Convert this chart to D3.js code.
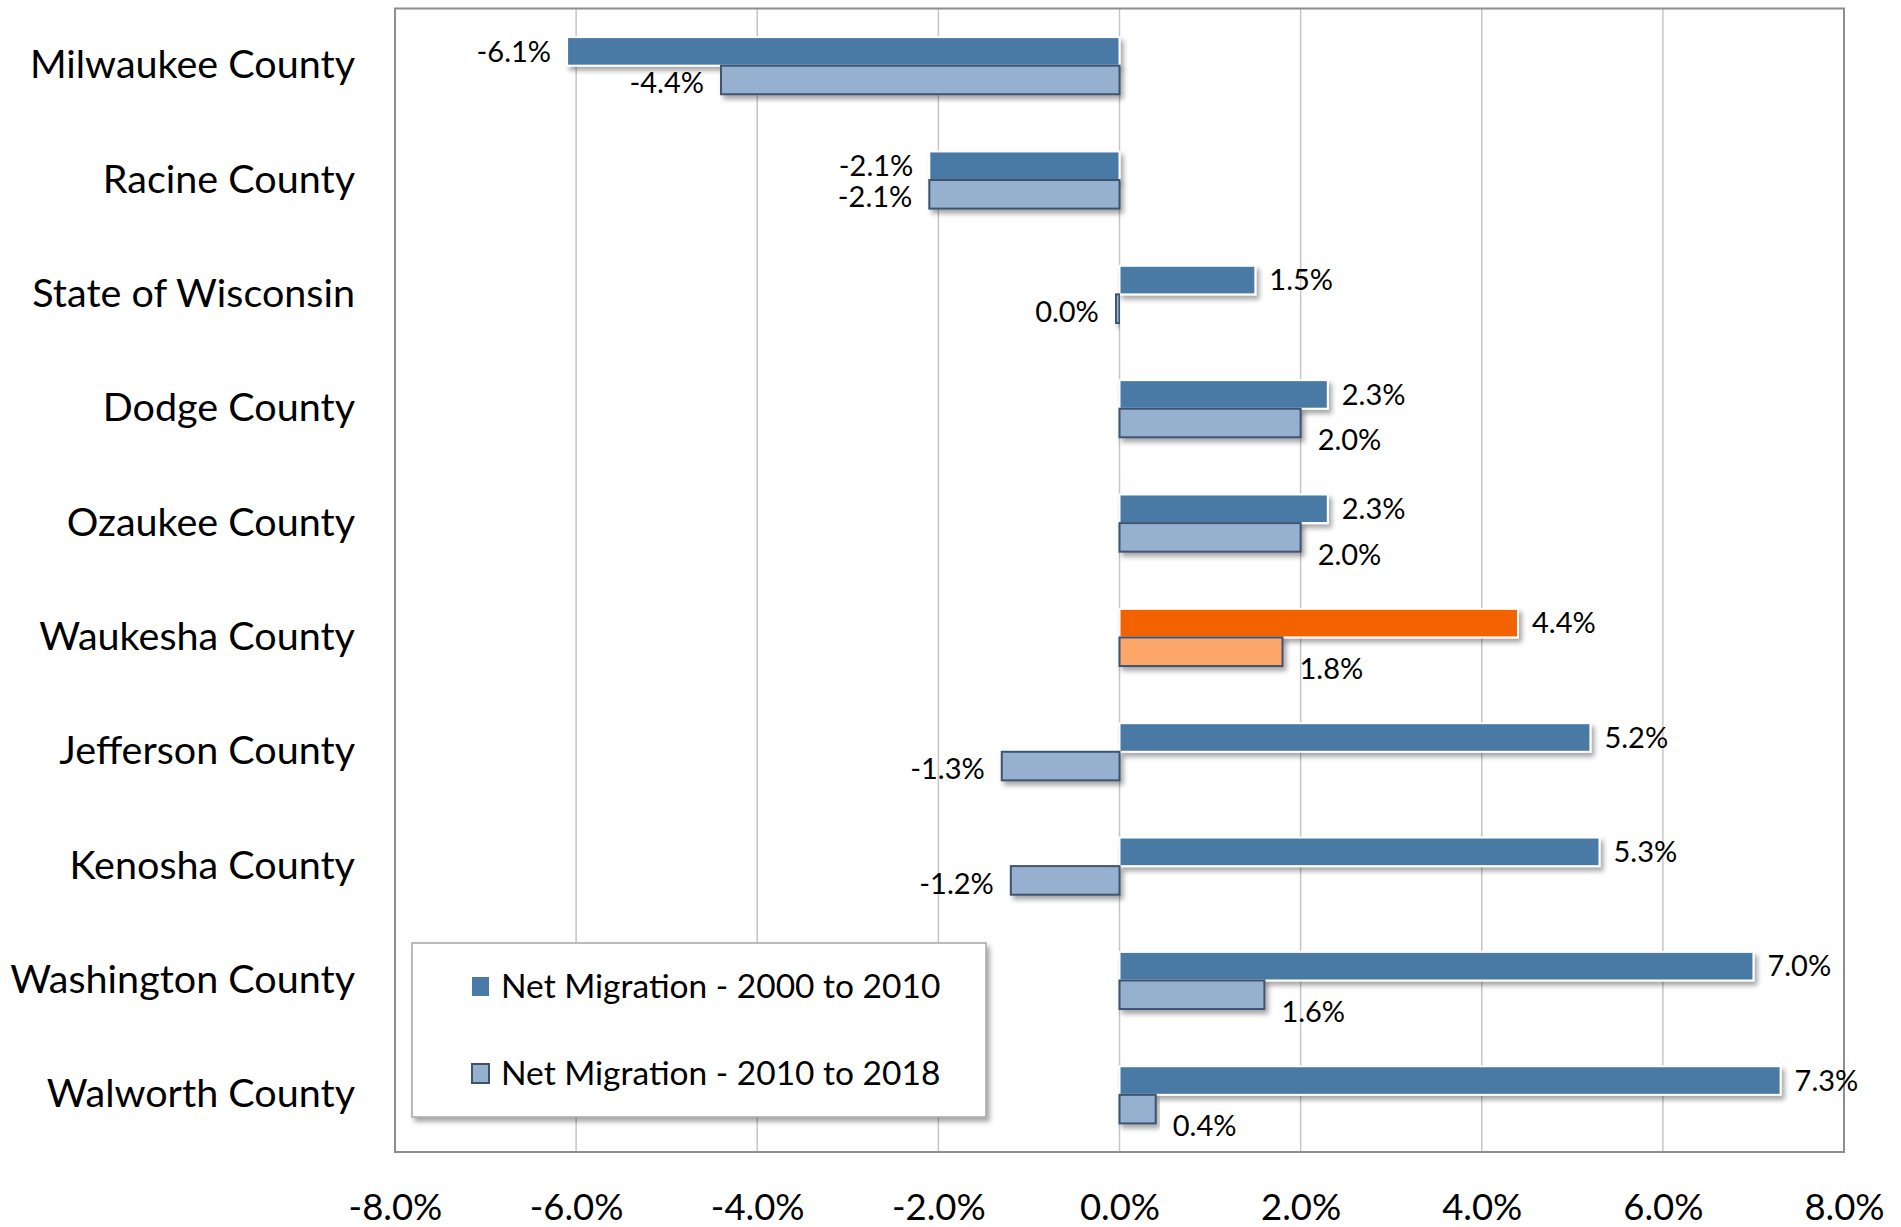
<!DOCTYPE html>
<html>
<head>
<script src="https://d3js.org/d3.v7.min.js"></script>
<style>
	body {
		margin: 0;
		background: #ffffff;
	}
	svg {
		display: block;
		font-family: Lato, "Open Sans", sans-serif;
	}
</style>
</head>
<body>
<svg id="chart" width="1901" height="1227"></svg>
<script>
	// county names, top to bottom
	var counties = ["Milwaukee County", "Racine County", "State of Wisconsin", "Dodge County",
		"Ozaukee County", "Waukesha County", "Jefferson County", "Kenosha County",
		"Washington County", "Walworth County"];
	// net migration, percent
	var mig2000to2010 = [-6.1, -2.1, 1.5, 2.3, 2.3, 4.4, 5.2, 5.3, 7.0, 7.3];
	var mig2010to2018 = [-4.4, -2.1, -0.04, 2.0, 2.0, 1.8, -1.3, -1.2, 1.6, 0.4];
	var seriesNames = ["Net Migration - 2000 to 2010", "Net Migration - 2010 to 2018"];
	var tickValues = [-8, -6, -4, -2, 0, 2, 4, 6, 8];
	var highlight = "Waukesha County";

	// plot area (note: "top" is taken by window.top, so prefix these)
	var plotL = 395, plotR = 1844, plotT = 8.5, plotB = 1152;

	var svg = d3.select("#chart");

	// drop shadow for bars and legend
	var defs = svg.append("defs");
	var f = defs.append("filter").attr("id", "shadow")
		.attr("x", "-5%").attr("y", "-30%").attr("width", "115%").attr("height", "180%");
	f.append("feDropShadow").attr("dx", 3).attr("dy", 4).attr("stdDeviation", 2.5)
		.attr("flood-color", "#000").attr("flood-opacity", 0.35);

	var x = d3.scaleLinear().domain([-8, 8]).range([plotL, plotR]);
	var y = d3.scaleBand().domain(counties).range([plotT, plotB])
		.paddingInner(0.5).paddingOuter(0.25);
	var ySub = d3.scaleBand().domain([0, 1]).range([0, y.bandwidth()]);

	function pct(v) {
		if (Math.abs(v) < 0.05) return "0.0%";
		return v.toFixed(1) + "%";
	}

	// gridlines
	svg.append("g").selectAll("line").data(tickValues).enter().append("line")
		.attr("x1", function (d) { return x(d); })
		.attr("x2", function (d) { return x(d); })
		.attr("y1", plotT).attr("y2", plotB)
		.style("stroke", "#c6c6c6").style("stroke-width", 1.5);

	// plot border
	svg.append("rect")
		.attr("x", plotL).attr("y", plotT)
		.attr("width", plotR - plotL).attr("height", plotB - plotT)
		.style("fill", "none").style("stroke", "#8e8e8e").style("stroke-width", 2);

	// x axis labels
	var xAxis = d3.axisBottom(x).tickValues(tickValues)
		.tickSize(0).tickPadding(0)
		.tickFormat(function (d) { return d.toFixed(1) + "%"; });
	var gx = svg.append("g").attr("transform", "translate(0,1208)").call(xAxis);
	gx.select(".domain").remove();
	gx.selectAll("text").attr("y", 0).attr("dy", "0.32em")
		.style("font-family", "Lato, sans-serif").style("font-size", "36.5px").style("fill", "#000");

	// category labels
	var yAxis = d3.axisLeft(y).tickSize(0).tickPadding(0);
	var gy = svg.append("g").attr("transform", "translate(355,0)").call(yAxis);
	gy.select(".domain").remove();
	gy.selectAll("text")
		.style("font-family", "Lato, sans-serif").style("font-size", "39.5px").style("fill", "#000");

	// bars
	var rows = counties.map(function (c, i) {
		return { county: c, vals: [mig2000to2010[i], mig2010to2018[i]] };
	});

	function barFill(d, s) {
		if (d.county == highlight) return s == 0 ? "#f26405" : "#fda66b";
		return s == 0 ? "#4a7aa5" : "#95b1cf";
	}

	var groups = svg.append("g").selectAll("g").data(rows).enter().append("g")
		.attr("transform", function (d) { return "translate(0," + y(d.county) + ")"; });

	[0, 1].forEach(function (s) {
		groups.append("rect")
			.attr("x", function (d) { return x(Math.min(0, d.vals[s])); })
			.attr("y", ySub(s))
			.attr("width", function (d) { return Math.abs(x(d.vals[s]) - x(0)); })
			.attr("height", ySub.bandwidth())
			.attr("filter", "url(#shadow)")
			.style("fill", function (d) { return barFill(d, s); })
			.style("stroke", s == 0 ? "#ffffff" : "#3e5270")
			.style("stroke-width", 2);
	});

	// data labels; the second series sits a little lower when it points right
	[0, 1].forEach(function (s) {
		groups.append("text")
			.attr("x", function (d) {
				var v = d.vals[s];
				return v >= 0 ? x(v) + (s == 0 ? 14 : 17) : x(v) - (s == 0 ? 16 : 17);
			})
			.attr("y", function (d) {
				var off = 0;
				if (s == 1) off = d.vals[s] >= 0 ? 17 : 3;
				return ySub(s) + ySub.bandwidth() / 2 + off;
			})
			.attr("dy", "0.35em")
			.attr("text-anchor", function (d) { return d.vals[s] >= 0 ? "start" : "end"; })
			.style("font-size", "29px")
			.style("fill", "#000")
			.text(function (d) { return pct(d.vals[s]); });
	});

	// legend
	var leg = svg.append("g");
	leg.append("rect")
		.attr("x", 412).attr("y", 943).attr("width", 574).attr("height", 174)
		.attr("filter", "url(#shadow)")
		.style("fill", "#ffffff").style("stroke", "#a6a6a6").style("stroke-width", 1.5);
	var legY = d3.scalePoint().domain([0, 1]).range([986, 1073]);
	var items = leg.selectAll("g.item").data(seriesNames).enter().append("g")
		.attr("class", "item")
		.attr("transform", function (d, i) { return "translate(0," + legY(i) + ")"; });
	items.append("rect")
		.attr("x", 472).attr("y", -9).attr("width", 17).attr("height", 19)
		.style("fill", function (d, i) { return i == 0 ? "#4a7aa5" : "#95b1cf"; })
		.style("stroke", function (d, i) { return i == 0 ? "none" : "#3e5270"; })
		.style("stroke-width", 2);
	items.append("text")
		.attr("x", 501).attr("dy", "0.35em")
		.style("font-size", "33.5px").style("fill", "#000")
		.text(function (d) { return d; });
</script>
</body>
</html>
